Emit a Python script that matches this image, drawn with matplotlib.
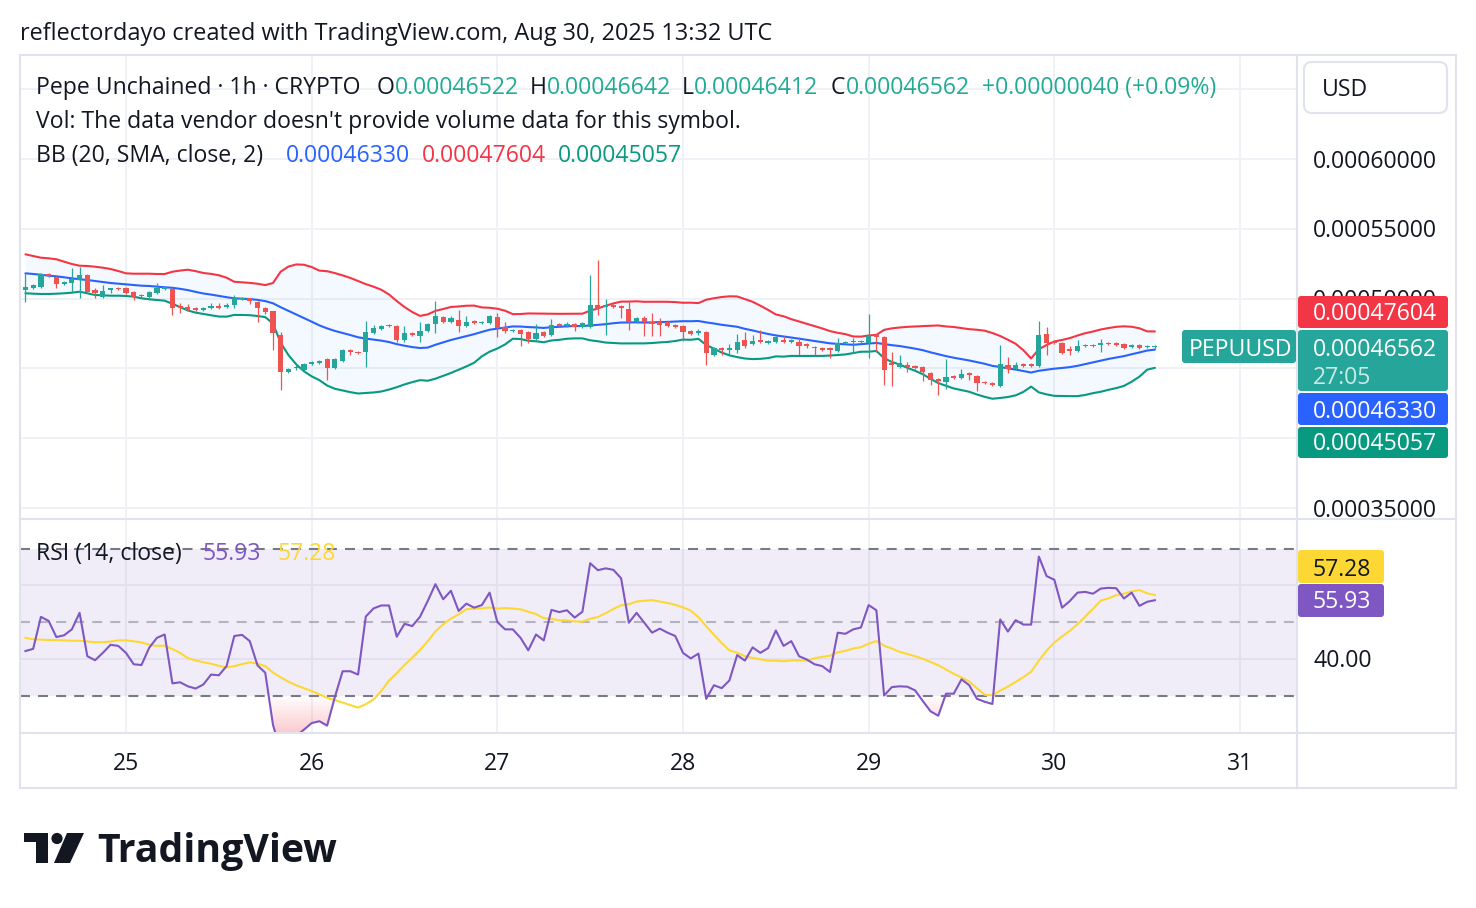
import numpy as np
import pandas as pd
import matplotlib
matplotlib.use("Agg")
import matplotlib.pyplot as plt
import matplotlib.dates as mdates
import matplotlib.transforms as mtransforms
from matplotlib.patches import FancyBboxPatch, Polygon, Circle, PathPatch
from matplotlib.lines import Line2D
from matplotlib.path import Path

plt.rcParams['font.family'] = ['Open Sans', 'DejaVu Sans']
plt.rcParams['lines.scale_dashes'] = False

# ---------------- data (prices in units of 1e-8 USD) ----------------
UNIT = 1e-8
first_candle = "2025-08-24 11:00"

opens = [50617, 50760, 50832, 51763, 51548, 51047, 51118, 51333, 51691, 50617,
         50116, 50617, 50760, 50760, 50474, 50259, 50116, 50402, 50689, 50689,
         49471, 49400, 49328, 49185, 49328, 49471, 49400, 49543, 49973, 50044,
         49758, 49328, 49113, 47395, 44745, 45031, 44888, 45318, 45389, 45676,
         45031, 45533, 46320, 46177, 46177, 47538, 47824, 48111, 48039, 47036,
         47538, 47323, 47681, 48182, 48684, 48326, 48469, 48039, 48397, 48254,
         48254, 48684, 47968, 47681, 47753, 47609, 47108, 47609, 47395, 48182,
         48039, 48182, 47968, 47968, 49543, 49400, 49543, 49471, 49257, 48326,
         48612, 48326, 48326, 48326, 48111, 48039, 47681, 47538, 47609, 45962,
         46464, 46320, 46320, 47036, 46750, 47036, 46822, 46893, 47036, 46893,
         46893, 46750, 46535, 46464, 46464, 46249, 46822, 46893, 46893, 46822,
         47395, 47251, 45389, 45103, 45246, 45175, 45103, 44673, 44244, 44029,
         44459, 44315, 44673, 44459, 44029, 43957, 43742, 45246, 44960, 45318,
         45318, 45175, 47466, 46893, 46822, 46392, 46249, 46607, 46678, 46678,
         46822, 46822, 46750, 46535, 46678, 46535, 46522]
highs = [51834, 51047, 51834, 51834, 51620, 51261, 52192, 52264, 51763, 50760,
         50975, 50760, 50832, 50832, 50545, 50331, 50545, 51118, 50904, 50760,
         49686, 49615, 49400, 49400, 49686, 49686, 49686, 50259, 50116, 50044,
         49829, 49400, 49113, 47609, 45031, 45246, 45389, 45533, 45604, 45748,
         45748, 46392, 46392, 46249, 48397, 48111, 48111, 48182, 48111, 48039,
         47609, 48326, 48254, 49829, 48755, 48755, 49185, 48755, 48469, 48397,
         48827, 48970, 48326, 47824, 47824, 47681, 48182, 47681, 48540, 48254,
         48326, 48254, 48326, 51691, 52765, 49973, 49615, 49543, 49758, 48684,
         48755, 48970, 48612, 48397, 48182, 48111, 47753, 47824, 47681, 46535,
         46535, 46750, 47466, 47609, 47395, 47753, 47036, 47323, 47323, 47108,
         47251, 46822, 46607, 46535, 46535, 47180, 46965, 47180, 47036, 48898,
         47466, 47323, 46177, 45962, 45461, 45246, 45175, 44745, 44315, 45676,
         44530, 44960, 44745, 44530, 44100, 44029, 46678, 45819, 45461, 45389,
         45389, 48397, 47968, 46965, 46893, 46607, 47036, 46750, 46750, 47108,
         46893, 46893, 46822, 46750, 46750, 46678, 46642]
lows = [49758, 50689, 50760, 51548, 50760, 50975, 50474, 50044, 50402, 50044,
        50044, 50402, 50617, 50331, 49901, 50116, 50044, 50331, 50617, 48827,
        48970, 49113, 49113, 49113, 49257, 49257, 49328, 49328, 49901, 49615,
        48326, 48898, 46320, 43456, 44673, 44888, 44817, 45246, 45318, 44172,
        44960, 45461, 45962, 46034, 45103, 47466, 47753, 47968, 46893, 46893,
        47323, 46893, 47609, 47538, 48254, 48254, 47609, 47968, 48182, 48182,
        48182, 47251, 47538, 47609, 46607, 46822, 47036, 47251, 47323, 47968,
        47968, 47681, 47896, 47896, 48827, 47395, 49328, 48612, 47753, 48254,
        47323, 47323, 47323, 47968, 47896, 46965, 47395, 47395, 45246, 45891,
        45962, 45962, 46106, 46464, 46678, 46822, 46750, 46822, 46822, 46822,
        45962, 46464, 45962, 46249, 45748, 46177, 46750, 46106, 46822, 45748,
        46177, 43814, 43742, 45031, 44745, 44960, 44100, 43814, 43098, 43528,
        44244, 44244, 44172, 43384, 43886, 43742, 43671, 44673, 44888, 45103,
        45103, 45103, 45962, 46750, 46034, 45962, 46177, 46535, 46535, 46177,
        46678, 46607, 46392, 46464, 46392, 46464, 46412]
closes = [50832, 50975, 51763, 51620, 51047, 51190, 51405, 51691, 50474, 50402,
          50545, 50760, 50689, 50402, 50116, 50187, 50474, 50760, 50832, 49328,
          49328, 49185, 49185, 49328, 49471, 49328, 49543, 50044, 50044, 49829,
          49328, 49042, 47538, 44745, 44960, 45103, 45318, 45461, 45533, 45031,
          45676, 46320, 46177, 46106, 47609, 47896, 48039, 48039, 47036, 47538,
          47395, 47681, 48182, 48755, 48326, 48612, 48039, 48326, 48254, 48326,
          48755, 47896, 47681, 47753, 47466, 47108, 47538, 47323, 48111, 48039,
          48182, 47968, 48254, 49543, 49257, 49543, 49400, 49328, 48326, 48612,
          48326, 48182, 48111, 48039, 47968, 47609, 47466, 47681, 46106, 46464,
          46320, 46464, 46893, 46607, 46965, 46893, 46965, 47251, 46893, 47036,
          46607, 46607, 46464, 46320, 46320, 46822, 46893, 46965, 46965, 47323,
          47251, 44888, 45246, 45389, 45103, 45031, 44745, 44172, 44100, 44387,
          44315, 44602, 44530, 43957, 43957, 43814, 45318, 44960, 45246, 45175,
          45175, 47395, 46822, 46822, 46106, 46249, 46607, 46678, 46607, 46822,
          46750, 46678, 46464, 46678, 46464, 46607, 46562]

# Bollinger band values for the first 19 candles (window starts before the view)
bb_upper_head = [53174, 53052, 52930, 52887, 52816, 52644, 52479, 52357, 52336, 52285,
                 52214, 52121, 51977, 51813, 51784, 51784, 51784, 51763, 51763]
bb_basis_head = [51813, 51763, 51713, 51641, 51598, 51527, 51455, 51383, 51333, 51261,
                 51190, 51118, 51068, 51025, 50975, 50925, 50904, 50854, 50811]
bb_lower_head = [50381, 50352, 50331, 50331, 50352, 50381, 50424, 50495, 50381, 50259,
                 50238, 50209, 50209, 50187, 50137, 50022, 49951, 49901, 49851]

rsi = [42.1, 42.7, 51.4, 50.3, 45.9, 46.4, 48.0, 52.5, 40.7, 39.6,
       41.6, 43.8, 43.5, 41.6, 38.5, 38.3, 43.0, 45.7, 46.6, 33.3,
       33.6, 32.5, 31.9, 33.0, 35.7, 35.5, 38.0, 46.2, 46.5, 44.8,
       38.2, 36.2, 22.0, 15.0, 17.0, 19.0, 20.7, 22.5, 23.0, 21.8,
       29.6, 36.6, 36.6, 35.7, 51.5, 53.7, 54.5, 54.5, 46.0, 49.5,
       48.9, 51.4, 55.7, 60.3, 56.2, 58.5, 53.0, 55.0, 53.9, 54.6,
       58.0, 50.0, 48.0, 48.0, 45.7, 42.3, 46.6, 45.0, 53.3, 52.7,
       53.2, 51.2, 52.8, 66.0, 64.1, 64.6, 64.2, 61.9, 49.8, 52.5,
       49.8, 47.1, 48.2, 47.1, 46.2, 41.6, 40.1, 41.4, 29.1, 32.8,
       32.0, 34.1, 41.0, 39.5, 43.1, 41.6, 42.9, 47.7, 43.5, 44.8,
       40.7, 39.8, 38.5, 38.0, 36.4, 47.1, 46.8, 48.0, 48.5, 54.6,
       53.2, 30.0, 32.3, 32.5, 32.4, 31.4, 28.5, 25.7, 24.5, 30.5,
       30.5, 34.4, 32.8, 29.1, 28.3, 27.7, 50.7, 47.4, 50.5, 49.3,
       49.3, 67.8, 62.5, 61.5, 53.9, 55.7, 58.0, 58.2, 57.7, 59.1,
       59.3, 59.2, 56.4, 58.0, 54.4, 55.5, 55.93]
# RSI-MA values for the first 13 candles (window starts before the view)
rsi_ma_head = [45.7, 45.3, 45.2, 45.1, 45.1, 45.0, 44.9, 44.9, 44.7, 44.5, 44.5, 44.7, 45.0]

day_labels = ["25", "26", "27", "28", "29", "30", "31"]
price_levels = [35000, 40000, 45000, 50000, 55000, 60000, 65000]
price_labels_shown = [35000, 50000, 55000, 60000]   # the others sit under the value boxes

# ---------------- derived series ----------------
times = pd.date_range(first_candle, periods=len(closes), freq="h")
xs = mdates.date2num(times)
o = np.array(opens) * UNIT
h = np.array(highs) * UNIT
l = np.array(lows) * UNIT
c = np.array(closes) * UNIT

s = pd.Series(closes, dtype=float)
basis = s.rolling(20).mean().to_numpy()
sd = s.rolling(20).std(ddof=0).to_numpy()
upper = basis + 2 * sd
lower = basis - 2 * sd
n0 = len(bb_basis_head)
basis[:n0] = bb_basis_head
upper[:n0] = bb_upper_head
lower[:n0] = bb_lower_head
basis, upper, lower = basis * UNIT, upper * UNIT, lower * UNIT

rsi_a = np.array(rsi)
rsi_ma = pd.Series(rsi_a).rolling(14).mean().to_numpy()
rsi_ma[:len(rsi_ma_head)] = rsi_ma_head

# ---------------- figure ----------------
W, H = 1476, 908
fig = plt.figure(figsize=(W / 100, H / 100), dpi=100, facecolor="white")
IDT = mtransforms.IdentityTransform()
T = mtransforms.Affine2D().scale(1, -1).translate(0, H)

TEXT = "#131722"
GRID = "#EFF1F6"
BORDER = "#E0E3EB"
UPC = "#26A69A"
DNC = "#EF5350"
FS = 16.6
DY = 2.5  # vertical text nudge (pixels)


def px_axes(x0, y0, x1, y1):
    a = fig.add_axes([x0 / W, 1 - y1 / H, (x1 - x0) / W, (y1 - y0) / H])
    a.set_axis_off()
    return a


ax = px_axes(20, 55, 1297, 519)
axr = px_axes(20, 519, 1297, 733)

day0 = mdates.date2num(pd.Timestamp("2025-08-24"))
xl = day0 + 10.298 / 24
xr = day0 + 175.37 / 24
PPD = 185.67  # pixels per day
ylo, yhi = 34213 * UNIT, 67450 * UNIT
rlo, rhi = 19.80, 78.03

day_x = [day0 + k + 1 for k in range(len(day_labels))]

# grid
for p in price_levels:
    ax.axhline(p * UNIT, color=GRID, lw=1.4, zorder=0)
for dx in day_x:
    ax.axvline(dx, color=GRID, lw=1.4, zorder=0)
    axr.axvline(dx, color=GRID, lw=1.4, zorder=0)
axr.axhline(60, color=GRID, lw=1.4, zorder=0)
axr.axhline(40, color=GRID, lw=1.4, zorder=0)

# Bollinger bands
ax.fill_between(xs, lower, upper, color="#2196F3", alpha=0.05, lw=0, zorder=1)
ax.plot(xs, upper, color="#F23645", lw=1.5, zorder=2, solid_capstyle="round")
ax.plot(xs, basis, color="#2962FF", lw=1.5, zorder=2, solid_capstyle="round")
ax.plot(xs, lower, color="#089981", lw=1.5, zorder=2, solid_capstyle="round")

# candles
up = c >= o
cols = np.where(up, UPC, DNC)
body_lo = np.minimum(o, c)
body_h = np.maximum(np.abs(c - o), 80 * UNIT)
ax.vlines(xs, l, h, colors=cols, lw=0.9, zorder=3)
ax.bar(xs, body_h, width=5.2 / PPD, bottom=body_lo, color=cols, lw=0, zorder=4)

ax.set_xlim(xl, xr)
ax.set_ylim(ylo, yhi)

# RSI pane
axr.axhspan(30, 70, color="#7E57C2", alpha=0.1, lw=0, zorder=1)
axr.axhline(70, color="#787B86", lw=1.5, ls=(0, (7.2, 5.8)), zorder=2)
axr.axhline(30, color="#787B86", lw=1.5, ls=(0, (7.2, 5.8)), zorder=2)
axr.axhline(50, color="#787B86", alpha=0.5, lw=1.5, ls=(0, (7.2, 5.8)), zorder=2)

fb = axr.fill_between(xs, rsi_a, 30, where=rsi_a < 30, interpolate=True,
                      facecolor="none", edgecolor="none", lw=0)
paths = [p for p in fb.get_paths() if len(p.vertices)]
if paths:
    comp = Path.make_compound_path(*paths)
    clip = PathPatch(comp, transform=axr.transData, fc="none", ec="none")
    axr.add_patch(clip)
    lev = np.linspace(10, 30, 200)
    grad = np.zeros((200, 1, 4))
    grad[:, 0, 0] = 242 / 255
    grad[:, 0, 1] = 54 / 255
    grad[:, 0, 2] = 69 / 255
    grad[:, 0, 3] = np.clip(0.26 * (30 - lev) / 10, 0, 0.45)
    img = axr.imshow(grad, extent=[xl, xr, 10, 30], origin="lower", aspect="auto",
                     zorder=2, interpolation="bilinear")
    img.set_clip_path(clip)

axr.plot(xs, rsi_ma, color="#FDD835", lw=1.5, zorder=3)
axr.plot(xs, rsi_a, color="#7E57C2", lw=1.5, zorder=4)
axr.set_xlim(xl, xr)
axr.set_ylim(rlo, rhi)


# ---------------- frame ----------------
def pline(x0, y0, x1, y1, color=BORDER, lw=1.5):
    fig.add_artist(Line2D([x0, x1], [H - y0, H - y1], transform=IDT, color=color, lw=lw,
                          zorder=2))


pline(20, 55, 1456, 55)
pline(20, 788, 1456, 788)
pline(20, 55, 20, 788)
pline(1456, 55, 1456, 788)
pline(20, 519, 1456, 519)
pline(20, 733, 1456, 733)
pline(1297, 55, 1297, 788)


def ptext(x, y, s, size=FS, color=TEXT, ha="left", va="center", weight="normal", z=3, **kw):
    return fig.text(x, y + DY, s, transform=T, fontsize=size, color=color, ha=ha, va=va,
                    fontweight=weight, zorder=z, **kw)


def pbox(x0, y0, x1, y1, fc, ec="none", r=3, lw=0, z=5):
    fig.add_artist(FancyBboxPatch((x0, H - y1), x1 - x0, y1 - y0,
                                  boxstyle=f"round,pad=0,rounding_size={r}",
                                  transform=IDT, fc=fc, ec=ec, lw=lw, zorder=z))


renderer = fig.canvas.get_renderer()


def seq(x, y, parts, size=FS):
    for txt, col in parts:
        t = ptext(x, y, txt, size, col)
        x += t.get_window_extent(renderer).width
    return x


# header
ptext(20, 31, "reflectordayo created with TradingView.com, Aug 30, 2025 13:32 UTC", size=16.9)

# legends
VAL = "#22AB94"
ptext(36, 85, "Pepe Unchained · 1h · CRYPTO")
seq(377, 85, [("O", TEXT), ("0.00046522", VAL)])
seq(530, 85, [("H", TEXT), ("0.00046642", VAL)])
seq(682, 85, [("L", TEXT), ("0.00046412", VAL)])
seq(831, 85, [("C", TEXT), ("0.00046562", VAL)])
ptext(982, 85, "+0.00000040 (+0.09%)", color=VAL)
ptext(36, 119, "Vol: The data vendor doesn't provide volume data for this symbol.")
ptext(36, 153, "BB (20, SMA, close, 2)")
ptext(286, 153, "0.00046330", color="#2962FF")
ptext(422, 153, "0.00047604", color="#F23645")
ptext(558, 153, "0.00045057", color="#089981")
ptext(36, 551, "RSI (14, close)")
ptext(203, 551, "55.93", color="#7E57C2")
ptext(278, 551, "57.28", color="#FDD835")

# price axis labels (in data coords of the panes, drawn under the value boxes)
bt_price = mtransforms.blended_transform_factory(IDT, ax.transData) + \
    mtransforms.Affine2D().translate(0, -DY)
for p in price_labels_shown:
    fig.text(1313, p * UNIT, f"{p * UNIT:.8f}", transform=bt_price, fontsize=FS,
             color=TEXT, ha="left", va="center", zorder=3)
bt_rsi = mtransforms.blended_transform_factory(IDT, axr.transData) + \
    mtransforms.Affine2D().translate(0, -DY)
fig.text(1313, 40, "40.00", transform=bt_rsi, fontsize=FS, color=TEXT, ha="left",
         va="center", zorder=3)

# time axis labels
bt_time = mtransforms.blended_transform_factory(axr.transData, IDT)
for dx, lab in zip(day_x, day_labels):
    fig.text(dx, H - 761 - DY, lab, transform=bt_time, fontsize=FS, color=TEXT,
             ha="center", va="center", zorder=3)

# USD box
pbox(1304, 62, 1447, 113, fc="white", ec=BORDER, r=8, lw=1.5)
ptext(1322, 88, "USD", z=6)

# last-value labels on the price axis
pbox(1298, 296, 1448, 328, "#F23645")
ptext(1313, 312, "0.00047604", color="white", z=6)
pbox(1298, 330, 1448, 391, UPC)
ptext(1313, 348, "0.00046562", color="white", z=6)
ptext(1313, 376, "27:05", color="#C8EBE7", z=6)
pbox(1298, 393, 1448, 425, "#2962FF")
ptext(1313, 409, "0.00046330", color="white", z=6)
pbox(1298, 427, 1448, 458, "#089981")
ptext(1313, 442, "0.00045057", color="white", z=6)
pbox(1182, 330, 1296, 363, UPC)
ptext(1189, 347, "PEPUUSD", color="white", z=6)

pbox(1298, 550, 1384, 583, "#FDD835")
ptext(1313, 567, "57.28", color=TEXT, z=6)
pbox(1298, 584, 1384, 617, "#7E57C2")
ptext(1313, 600, "55.93", color="white", z=6)

# TradingView logo
fig.add_artist(Polygon([(24, 833), (48, 833), (48, 863), (36, 863), (36, 842), (24, 842)],
                       closed=True, transform=T, fc="#131722", ec="none"))
fig.add_artist(Circle((57, 838.5), 5.6, transform=T, fc="#131722", ec="none"))
fig.add_artist(Polygon([(67, 833), (84, 833), (70, 863), (54, 863)],
                       closed=True, transform=T, fc="#131722", ec="none"))
tv = ptext(97, 849, "TradingView", size=28, weight="bold", color="#131722")
wv = tv.get_window_extent(renderer).width
tv.set_fontsize(28 * 239 / wv)

fig.savefig("out.png", dpi=100, facecolor="white")
